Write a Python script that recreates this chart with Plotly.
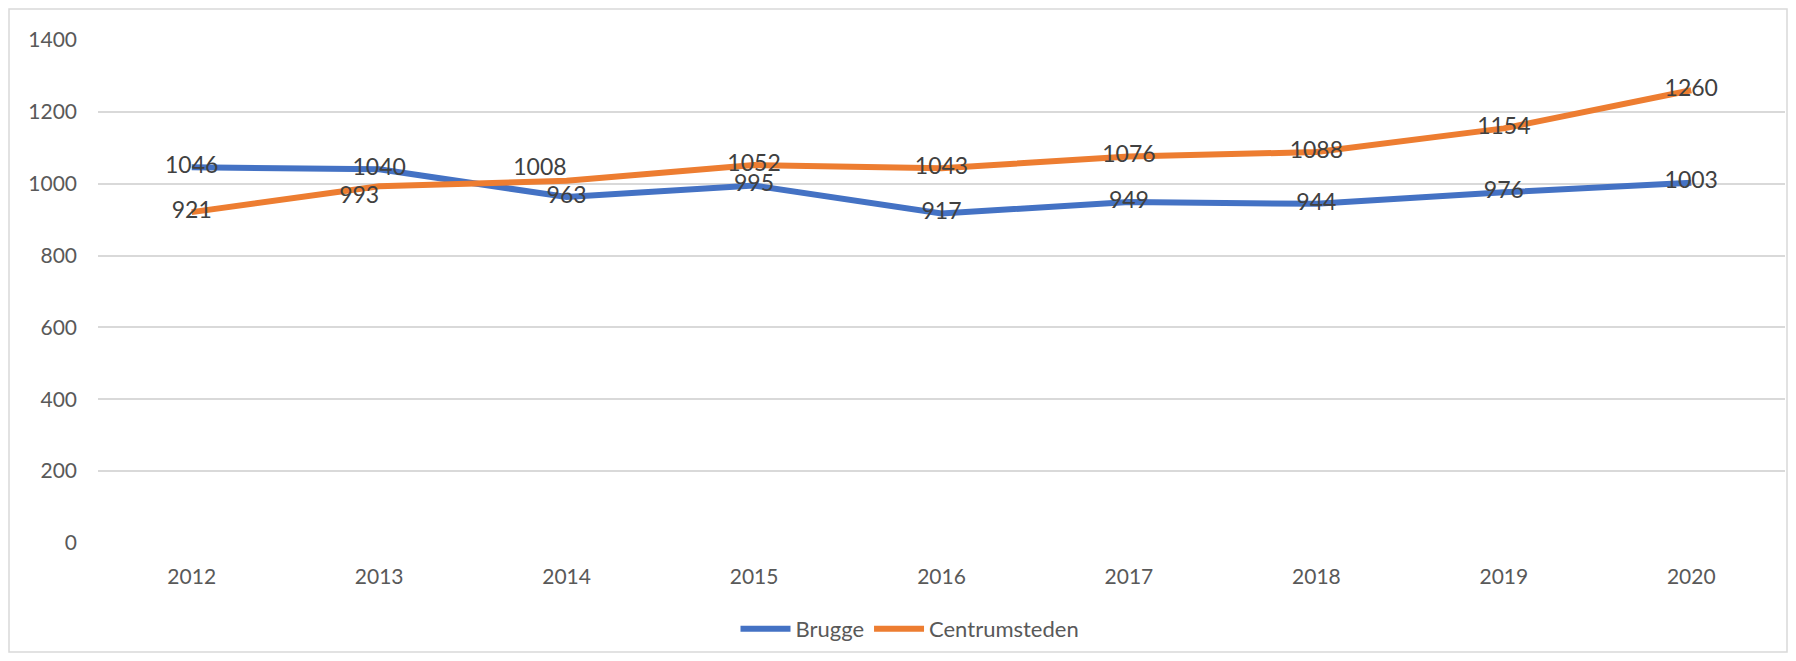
import plotly.graph_objects as go

years = ["2012", "2013", "2014", "2015", "2016", "2017", "2018", "2019", "2020"]
brugge = [1046, 1040, 963, 995, 917, 949, 944, 976, 1003]
centrum = [921, 993, 1008, 1052, 1043, 1076, 1088, 1154, 1260]
y_ticks = [0, 200, 400, 600, 800, 1000, 1200, 1400]

BLUE = "#4472C4"
ORANGE = "#ED7D31"
FONT = "Lato, Open Sans, sans-serif"

# page body has an 8px margin: the figure is drawn at (8, 8)
W, H = 1780, 645
L, R, T, B = 90, 3, 32, 110
PW, PH = W - L - R, H - T - B

brugge_pos = ["middle center"] * len(years)
centrum_pos = ["middle center"] * len(years)
centrum_pos[1] = "bottom left"
centrum_pos[2] = "top left"

fig = go.Figure()
fig.add_trace(go.Scatter(
    x=years, y=brugge, name="Brugge", mode="lines+text",
    line=dict(color=BLUE, width=6),
    text=[str(v) for v in brugge], textposition=brugge_pos,
    textfont=dict(size=23, color="#404040", family=FONT),
))
fig.add_trace(go.Scatter(
    x=years, y=centrum, name="Centrumsteden", mode="lines+text",
    line=dict(color=ORANGE, width=6),
    text=[str(v) for v in centrum], textposition=centrum_pos,
    textfont=dict(size=23, color="#404040", family=FONT),
))

fig.update_layout(
    width=W, height=H,
    margin=dict(l=L, r=R, t=T, b=B),
    paper_bgcolor="white", plot_bgcolor="white",
    font=dict(family=FONT, color="#595959", size=21),
    showlegend=True,
    legend=dict(orientation="h", x=(910 - 8 - L) / PW, xanchor="center",
                y=(535 - 621) / PH, yanchor="middle",
                font=dict(size=22, color="#595959", family=FONT), itemwidth=50,
                traceorder="normal"),
    xaxis=dict(type="category", range=[-0.5, len(years) - 0.5], showgrid=False,
               showline=False, zeroline=False,
               ticks="", tickfont=dict(size=21, color="#595959"), ticklabelstandoff=19),
    yaxis=dict(range=[0, 1400], tickvals=y_ticks, showgrid=True, gridcolor="#D9D9D9",
               gridwidth=1.5, zeroline=False, showline=False, ticks="",
               tickfont=dict(size=21, color="#595959"), ticklabelstandoff=20),
)

# chart-area border
fig.add_shape(type="rect", xref="paper", yref="paper",
              x0=(1 - L) / PW, x1=(W - 1 - L) / PW,
              y0=((H - B) - (H - 1)) / PH, y1=((H - B) - 1) / PH,
              line=dict(color="#D9D9D9", width=1.5), layer="below")

fig.write_html("out.html")
